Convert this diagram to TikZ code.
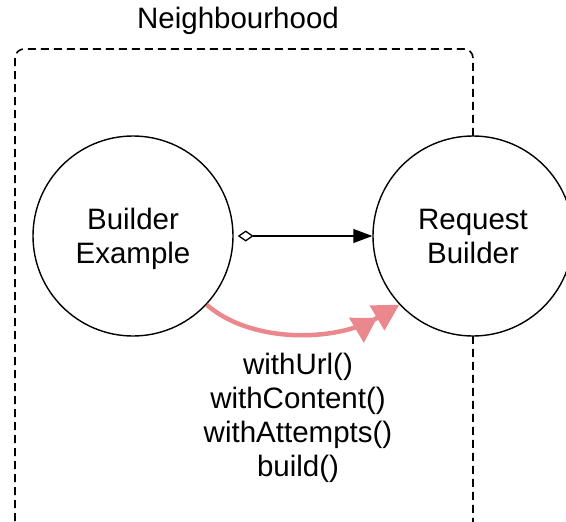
\documentclass[tikz,border=0pt]{standalone}
\usepackage{fontspec}
\setmainfont{Liberation Sans}
\usetikzlibrary{arrows.meta}
\definecolor{callpink}{RGB}{234,136,141}
% two centred lines, set a little below the box centre
\newcommand{\twolines}[2]{\raisebox{0pt}[\dimexpr\height+4pt\relax][\dimexpr\depth-4pt\relax]{\begin{tabular}{@{}c@{}}#1\\#2\end{tabular}}}
\tikzset{
  actor/.style={circle, draw=black, fill=white, line width=1.4pt, minimum size=200pt, inner sep=0pt,
                align=center, font=\fontsize{29.5}{34}\selectfont},
  label/.style={align=center, font=\fontsize{29.5}{34}\selectfont},
  boundary/.style={draw=black, line width=1.6pt, dash pattern=on 8pt off 5pt, rounded corners=9pt},
  owns/.style={line width=1.3pt, {Diamond[open, length=16pt, width=11pt]}-{Triangle[length=19pt, width=14pt]}},
  calls/.style={line width=4.5pt, draw=callpink,
                -{Triangle[length=24pt, width=28pt, fill=callpink, color=callpink]Triangle[length=26pt, width=28pt, fill=callpink, color=callpink]}}
}
\begin{document}
\begin{tikzpicture}[x=1pt, y=-1pt]
  \useasboundingbox (0,0) rectangle (566,522);
  \clip (0,0) rectangle (566,522);

  % neighbourhood boundary, open below the frame
  \draw[boundary] (15,560) -- (15,49) -- (473,49) -- (473,560);
  \node[label] (hood) at (238,21) {Neighbourhood};

  % the two objects
  \node[actor] (ex) at (133,236) {\twolines{Builder}{Example}};
  \node[actor] (rb) at (473,236) {\twolines{Request}{Builder}};

  % aggregation link
  \draw[owns] ([xshift=4pt]ex.east) -- (rb.west);

  % method calls
  \coordinate (c1) at (ex.-43);
  \coordinate (c2) at (rb.-137);
  \draw[calls] (c1) .. controls (250,343) and (335,343) .. (c2);

  \node[label] (calllist) at (298,418) {withUrl()\\withContent()\\withAttempts()\\build()};
\end{tikzpicture}
\end{document}
